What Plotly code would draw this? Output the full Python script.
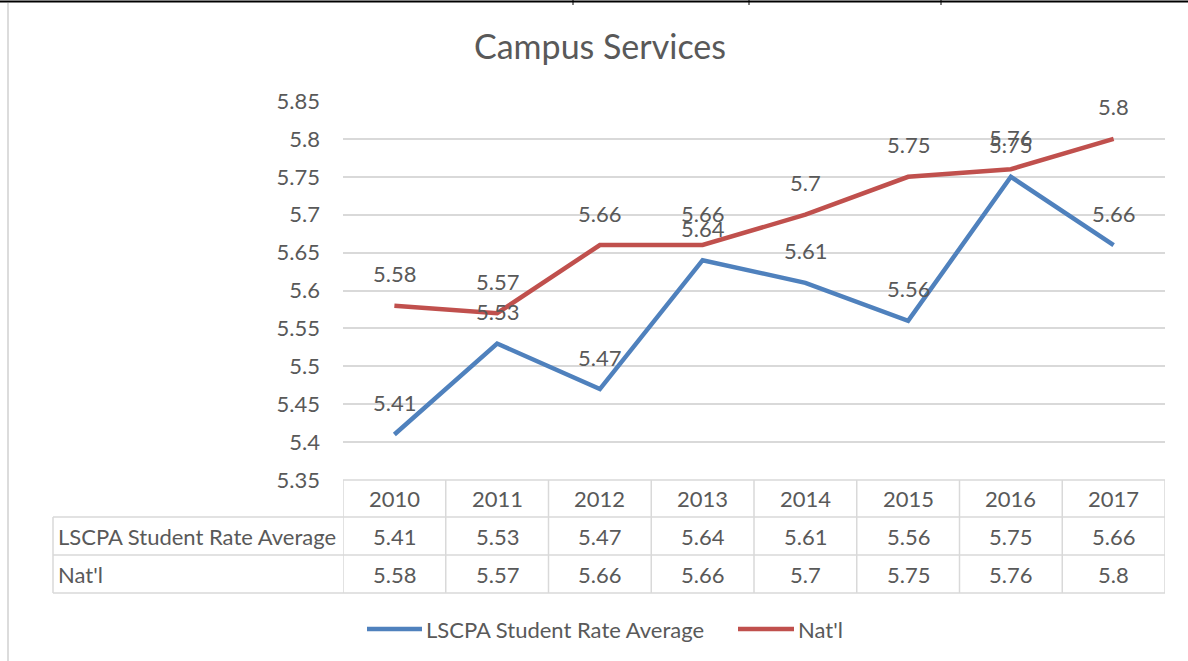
import plotly.graph_objects as go

years = [2010, 2011, 2012, 2013, 2014, 2015, 2016, 2017]
lscpa = [5.41, 5.53, 5.47, 5.64, 5.61, 5.56, 5.75, 5.66]
natl = [5.58, 5.57, 5.66, 5.66, 5.70, 5.75, 5.76, 5.80]
series_names = ["LSCPA Student Rate Average", "Nat'l"]
series_colors = ["#4F81BD", "#C0504D"]
y_ticks = [5.35, 5.4, 5.45, 5.5, 5.55, 5.6, 5.65, 5.7, 5.75, 5.8, 5.85]
y_ticklabels = ["5.35", "5.4", "5.45", "5.5", "5.55", "5.6", "5.65", "5.7", "5.75", "5.8", "5.85"]

W, H = 1188, 661
FONT = "Lato"
FS = 22
TXT = "#595959"
GRID = "#d9d9d9"


def py(p):
    return 1 - p / H


def px(p):
    return p / W


fig = go.Figure()
for name, vals, col in zip(series_names, [lscpa, natl], series_colors):
    fig.add_trace(go.Scatter(x=years, y=vals, mode="lines", name=name,
                             line=dict(color=col, width=4.5), showlegend=False,
                             hoverinfo="x+y"))

annotations = []
shapes = []

# data labels
for vals in [lscpa, natl]:
    for x, v in zip(years, vals):
        annotations.append(dict(x=x, y=v, xref="x", yref="y", text=str(v), showarrow=False,
                                yshift=32, font=dict(family=FONT, size=FS, color=TXT)))

# data table
row_y = [517, 555, 593]
x_left = years[0] - 0.5
x_right = years[-1] + 0.5
shapes.append(dict(type="line", xref="x", yref="paper", x0=x_left, x1=x_right,
                   y0=py(480), y1=py(480), line=dict(color=GRID, width=1.5)))
for r in row_y:
    shapes.append(dict(type="line", xref="paper", yref="paper", x0=px(53), x1=px(1165),
                       y0=py(r), y1=py(r), line=dict(color=GRID, width=1.5)))
shapes.append(dict(type="line", xref="paper", yref="paper", x0=px(53), x1=px(53),
                   y0=py(517), y1=py(593), line=dict(color=GRID, width=1.5)))
for i in range(len(years) + 1):
    xv = years[0] - 0.5 + i
    shapes.append(dict(type="line", xref="x", yref="paper", x0=xv, x1=xv,
                       y0=py(480), y1=py(593), line=dict(color=GRID, width=1.5)))

for x in years:
    annotations.append(dict(x=x, y=py(498), xref="x", yref="paper", text=str(x), showarrow=False,
                            font=dict(family=FONT, size=FS, color=TXT), yanchor="middle"))
for vals, yc in zip([lscpa, natl], [536, 574]):
    for x, v in zip(years, vals):
        annotations.append(dict(x=x, y=py(yc), xref="x", yref="paper", text=str(v), showarrow=False,
                                font=dict(family=FONT, size=FS, color=TXT), yanchor="middle"))
for name, yc in zip(series_names, [536, 574]):
    annotations.append(dict(x=px(56), y=py(yc), xref="paper", yref="paper", text=name, showarrow=False,
                            xanchor="left", yanchor="middle", font=dict(family=FONT, size=FS, color=TXT)))

# custom legend
leg_items = [(367, 422, 424), (738, 794, 796)]
for (x0, x1, tx), name, col in zip(leg_items, series_names, series_colors):
    shapes.append(dict(type="line", xref="paper", yref="paper", x0=px(x0), x1=px(x1),
                       y0=py(629), y1=py(629), line=dict(color=col, width=4.5)))
    annotations.append(dict(x=px(tx), y=py(629), xref="paper", yref="paper", text=name, showarrow=False,
                            xanchor="left", yanchor="middle", font=dict(family=FONT, size=FS, color=TXT)))

# frame decorations
shapes.append(dict(type="line", xref="paper", yref="paper", x0=0, x1=1, y0=py(1.5), y1=py(1.5),
                   line=dict(color="black", width=2)))
for tx in [573, 749, 941]:
    shapes.append(dict(type="line", xref="paper", yref="paper", x0=px(tx), x1=px(tx), y0=py(0), y1=py(5),
                       line=dict(color="black", width=1)))
shapes.append(dict(type="line", xref="paper", yref="paper", x0=px(8), x1=px(8), y0=py(3), y1=py(661),
                   line=dict(color="#d0d0d0", width=1.5)))

fig.update_layout(
    width=W, height=H,
    margin=dict(l=0, r=0, t=0, b=0, autoexpand=False),
    paper_bgcolor="white", plot_bgcolor="white",
    title=dict(text="Campus Services", x=600 / W, xanchor="center", y=py(47), yanchor="middle",
               font=dict(family=FONT, size=34, color=TXT)),
    xaxis=dict(domain=[px(343), px(1165)], range=[x_left, x_right], showgrid=False, automargin=False,
               showticklabels=False, zeroline=False, showline=False, fixedrange=True),
    yaxis=dict(domain=[py(480), py(101)], range=[5.35, 5.85], tickvals=y_ticks, ticktext=y_ticklabels,
               showgrid=True, gridcolor=GRID, gridwidth=1.5, zeroline=False, showline=False, automargin=False,
               ticklabelstandoff=22, tickfont=dict(family=FONT, size=FS, color=TXT), fixedrange=True),
    shapes=shapes, annotations=annotations,
    font=dict(family=FONT, color=TXT),
)

fig.write_html("out.html", config={"displayModeBar": False},
               post_script="document.body.style.margin='0px';document.body.style.overflow='hidden';")
